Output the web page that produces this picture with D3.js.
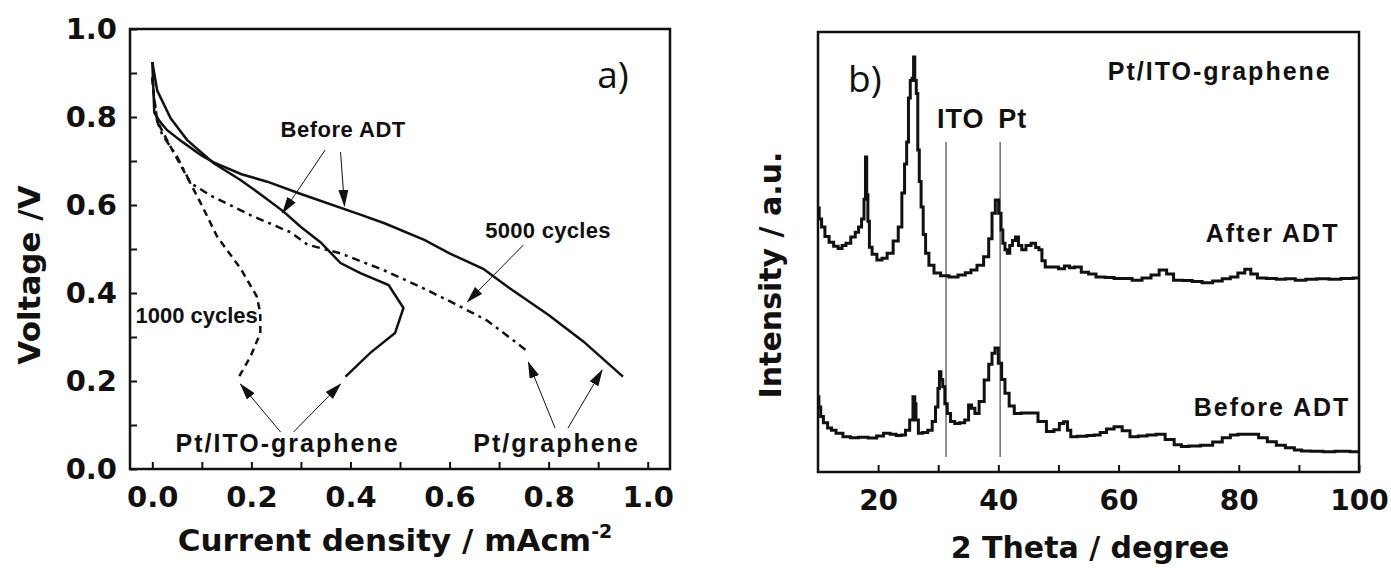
<!DOCTYPE html>
<meta charset="utf-8">
<head>
<style>
  body { margin: 0; background: #fff; }
  .axis text { font-family: "DejaVu Sans", sans-serif; font-weight: bold; fill: #111; }
  .label { font-family: "DejaVu Sans", sans-serif; font-weight: bold; fill: #111; }
  .note { font-family: "Liberation Sans", Arial, sans-serif; font-weight: bold; fill: #111; }
  .panel { font-family: "Open Sans", sans-serif; fill: #111; }
</style>
</head>
<body>
<svg id="chart"></svg>
<script src="https://d3js.org/d3.v7.min.js"></script>
<script>

// ---- panel a) polarisation curves (current density, voltage)
var jTicks = [0, 0.2, 0.4, 0.6, 0.8, 1.0];
var jMinor = [0.1, 0.3, 0.5, 0.7, 0.9];
var vTicks = [0, 0.2, 0.4, 0.6, 0.8, 1.0];
var vMinor = [0.1, 0.3, 0.5, 0.7, 0.9];

var ptGrapheneBefore = [[0.0,0.925],[0.002,0.87],[0.004,0.81],[0.015,0.79],[0.03,0.77],[0.06,0.744],
  [0.1,0.712],[0.124,0.697],[0.18,0.67],[0.232,0.653],[0.3,0.625],[0.42,0.578],[0.47,0.558],
  [0.55,0.52],[0.6,0.49],[0.668,0.455],[0.72,0.412],[0.8,0.35],[0.87,0.29],[0.95,0.21]];

var ptItoBefore = [[0.0,0.925],[0.01,0.86],[0.037,0.797],[0.07,0.748],[0.124,0.695],[0.178,0.657],
  [0.225,0.619],[0.265,0.585],[0.3,0.55],[0.34,0.515],[0.38,0.468],[0.42,0.445],[0.477,0.418],
  [0.507,0.366],[0.49,0.309],[0.44,0.264],[0.39,0.21]];

var ptIto1000 = [[0.0,0.89],[0.004,0.84],[0.01,0.79],[0.037,0.732],[0.07,0.664],[0.097,0.606],
  [0.131,0.528],[0.178,0.456],[0.211,0.392],[0.218,0.354],[0.218,0.309],[0.198,0.255],[0.175,0.21]];

var ptGraphene5000 = [[0.0,0.89],[0.004,0.84],[0.01,0.79],[0.02,0.76],[0.05,0.71],[0.077,0.65],
  [0.12,0.62],[0.2,0.576],[0.279,0.538],[0.313,0.51],[0.38,0.49],[0.467,0.452],[0.541,0.414],
  [0.608,0.377],[0.675,0.338],[0.72,0.3],[0.76,0.265]];

var notesA = [
  {text: "Before ADT", j: 0.259, v: 0.755, size: 22, sp: 0.5},
  {text: "5000 cycles", j: 0.672, v: 0.525, size: 22, sp: 0.3},
  {text: "1000 cycles", j: -0.034, v: 0.332, size: 22, sp: 0},
  {text: "Pt/ITO-graphene", j: 0.047, v: 0.039, size: 25, sp: 2},
  {text: "Pt/graphene", j: 0.648, v: 0.039, size: 25, sp: 2}
];
var arrowsA = [
  [[0.349,0.725],[0.263,0.582]],
  [[0.380,0.720],[0.388,0.598]],
  [[0.749,0.509],[0.636,0.380]],
  [[0.259,0.084],[0.178,0.193]],
  [[0.285,0.084],[0.380,0.193]],
  [[0.813,0.093],[0.759,0.243]],
  [[0.839,0.093],[0.908,0.225]]
];

// ---- panel b) XRD patterns (2 theta, intensity a.u.)
var thetaTicks = [20, 40, 60, 80, 100];
var thetaMinor = [30, 50, 70, 90];

var afterADT = [[10.0,60],[10.4,57.5],[10.8,55.7],[11.5,53.5],[12.2,52.2],[13.0,51.3],[13.7,50.8],
  [14.3,51.5],[15.0,52.0],[15.9,53.4],[16.5,54.5],[17.0,55.7],[17.5,57.5],[17.8,62],[18.0,71.6],
  [18.2,63],[18.4,57],[18.7,51.1],[19.3,49.5],[20.3,48.2],[21.0,48.6],[22.0,49.7],[23.0,52.5],
  [23.7,55.7],[24.2,63.4],[24.6,70],[24.9,75],[25.2,85],[25.5,89],[25.8,89.5],[26.0,94.3],
  [26.2,89],[26.5,86],[26.7,73.2],[27.0,66],[27.3,60.2],[27.7,54],[28.1,49.7],[28.8,47],
  [29.8,45.2],[31.0,44.6],[32.6,44.3],[34.0,44.8],[35.0,45.3],[35.9,45.9],[37.0,47],[38.1,48.9],
  [38.7,53],[39.2,58.8],[39.8,61.8],[40.3,58.8],[40.6,55],[40.9,52],[41.3,50.5],[41.7,49.7],
  [42.1,51.5],[42.6,52.6],[43.1,53.4],[43.6,51.5],[44.2,50.5],[45.0,51.5],[45.9,52],[46.5,51],
  [47.0,50.5],[47.5,48],[48.1,46.6],[49.5,46.6],[50.5,46.2],[51.5,46.8],[52.2,46.4],[53.1,46.6],
  [54.5,45.4],[55.5,45.0],[57.0,44.3],[58.5,44.2],[60.0,44.0],[61.5,44.0],[63.0,43.6],[64.8,44.1],
  [66.0,44.8],[67.5,45.9],[68.5,45.0],[69.8,43.6],[71.5,43.5],[73.0,43.3],[74.8,43.0],[76.5,43.4],
  [78.0,43.9],[79.2,44.3],[80.5,45.2],[81.5,46.1],[82.5,45.0],[83.7,44.1],[85.5,44.0],[87.0,43.8],
  [88.5,43.9],[90.3,43.6],[92.0,43.8],[94.0,43.9],[96.0,43.8],[98.0,44.0],[100.0,44.1]];

var beforeADT = [[10.0,17.1],[10.3,14.8],[10.6,12.6],[11.2,11.2],[12.0,10.0],[12.5,9.5],[13.5,8.8],
  [14.8,8.0],[16.0,7.8],[17.5,7.9],[19.2,7.7],[20.3,8.2],[21.5,8.8],[22.5,8.6],[23.5,8.3],[24.2,8.4],
  [24.9,9.5],[25.6,11.8],[26.0,17.1],[26.2,15.5],[26.4,11.8],[27.0,8.8],[27.8,9.0],[28.7,9.5],
  [29.3,11.5],[29.8,14.8],[30.1,19],[30.3,22.8],[30.6,21],[30.9,19.4],[31.3,15.5],[31.7,13.3],
  [32.4,11.5],[33.1,11.0],[34.0,11.2],[34.8,11.8],[35.3,15.2],[35.8,14.5],[36.4,13.3],[37.2,16],
  [38.1,20.9],[38.7,24.5],[39.2,27.0],[39.7,28.2],[40.3,24.7],[40.8,21],[41.4,17.9],[42.2,15.0],
  [43.1,13.3],[44.5,13.4],[45.9,13.4],[47.3,11.5],[48.7,9.2],[49.8,9.6],[50.5,11.0],[51.2,11.4],
  [51.8,9.5],[52.3,8.0],[54.0,8.1],[55.5,8.3],[56.4,8.4],[57.5,9.0],[58.5,9.8],[60.0,10.3],
  [61.2,9.4],[62.6,8.0],[64.0,8.2],[65.5,8.4],[67.0,8.6],[68.5,7.4],[70.0,6.2],[70.9,5.8],
  [72.5,5.9],[74.8,6.1],[76.5,6.8],[78.0,7.8],[79.2,8.4],[80.5,8.6],[81.5,8.6],[82.6,8.6],
  [84.0,7.8],[85.5,6.9],[87.0,6.1],[88.5,5.5],[90.0,5.0],[90.9,4.8],[93.0,4.7],[95.0,4.6],
  [97.0,4.7],[100.0,4.6]];

var refLines = [{name: "ITO", theta: 31.3}, {name: "Pt", theta: 40.3}];
var refTop = 75, refBottom = 3.4;

var notesB = [
  {text: "Pt/ITO-graphene", t: 58.2, i: 89.1, size: 25, sp: 2},
  {text: "ITO", t: 29.8, i: 78.2, size: 27, sp: 1},
  {text: "Pt", t: 40.0, i: 78.2, size: 27, sp: 1},
  {text: "After ADT", t: 74.5, i: 52.3, size: 25, sp: 2},
  {text: "Before ADT", t: 72.5, i: 12.7, size: 25, sp: 2}
];


var svg = d3.select("#chart")
    .attr("width", 1391)
    .attr("height", 568);

svg.append("rect").attr("width", 1391).attr("height", 568).style("fill", "#fff");

svg.append("defs").append("marker")
    .attr("id", "head")
    .attr("markerUnits", "userSpaceOnUse")
    .attr("markerWidth", 17).attr("markerHeight", 10)
    .attr("refX", 16).attr("refY", 5)
    .attr("orient", "auto")
  .append("path")
    .attr("d", "M0,0 L17,5 L0,10 Z")
    .style("fill", "#111");

// ================= panel a
var xa = d3.scaleLinear().domain([-0.045, 1.045]).range([130, 670]);
var ya = d3.scaleLinear().domain([0, 1]).range([469, 29]);

var ga = svg.append("g");

function ticksBottom(g, scale, major, minor, y0, fs) {
  var ax = g.append("g").attr("class", "axis")
      .attr("transform", "translate(0," + y0 + ")")
      .call(d3.axisBottom(scale).tickValues(major).tickSize(-7)
        .tickFormat(function(d) { return scale === xa ? d3.format(".1f")(d) : d; }));
  ax.select(".domain").remove();
  ax.selectAll("text").attr("y", 38).attr("dy", null).style("font-size", fs + "px");
  ax.selectAll("line").style("stroke", "#111").style("stroke-width", 2);
  var mn = g.append("g")
      .attr("transform", "translate(0," + y0 + ")")
      .call(d3.axisBottom(scale).tickValues(minor).tickSize(-7).tickFormat(""));
  mn.select(".domain").remove();
  mn.selectAll("line").style("stroke", "#111").style("stroke-width", 2);
}

ticksBottom(ga, xa, jTicks, jMinor, 469, 29);

var yax = ga.append("g").attr("class", "axis")
    .attr("transform", "translate(130,0)")
    .call(d3.axisLeft(ya).tickValues(vTicks).tickSize(-7).tickPadding(13).tickFormat(d3.format(".1f")));
yax.select(".domain").remove();
yax.selectAll("text").style("font-size", "29px");
yax.selectAll("line").style("stroke", "#111").style("stroke-width", 2);
var ymn = ga.append("g")
    .attr("transform", "translate(130,0)")
    .call(d3.axisLeft(ya).tickValues(vMinor).tickSize(-7).tickFormat(""));
ymn.select(".domain").remove();
ymn.selectAll("line").style("stroke", "#111").style("stroke-width", 2);

var lineA = d3.line()
    .x(function(d) { return xa(d[0]); })
    .y(function(d) { return ya(d[1]); });

ga.append("path").datum(ptGrapheneBefore).attr("d", lineA)
    .style("fill", "none").style("stroke", "#111").style("stroke-width", 2.5);
ga.append("path").datum(ptItoBefore).attr("d", lineA)
    .style("fill", "none").style("stroke", "#111").style("stroke-width", 2.5);
ga.append("path").datum(ptIto1000).attr("d", lineA)
    .style("fill", "none").style("stroke", "#111").style("stroke-width", 2.5)
    .style("stroke-dasharray", "7,5");
ga.append("path").datum(ptGraphene5000).attr("d", lineA)
    .style("fill", "none").style("stroke", "#111").style("stroke-width", 2.5)
    .style("stroke-dasharray", "8,5,3,5");

ga.selectAll(".arrA")
    .data(arrowsA)
  .enter().append("line")
    .attr("x1", function(d) { return xa(d[0][0]); })
    .attr("y1", function(d) { return ya(d[0][1]); })
    .attr("x2", function(d) { return xa(d[1][0]); })
    .attr("y2", function(d) { return ya(d[1][1]); })
    .style("stroke", "#111").style("stroke-width", 1)
    .attr("marker-end", "url(#head)");

ga.selectAll(".noteA")
    .data(notesA)
  .enter().append("text")
    .attr("class", "note")
    .attr("x", function(d) { return xa(d.j); })
    .attr("y", function(d) { return ya(d.v); })
    .style("font-size", function(d) { return d.size + "px"; })
    .style("letter-spacing", function(d) { return d.sp + "px"; })
    .text(function(d) { return d.text; });

ga.append("text").attr("class", "panel")
    .attr("x", xa(0.898)).attr("y", ya(0.866))
    .style("font-size", "37px")
    .text("a)");

ga.append("rect")
    .attr("x", 130).attr("y", 29).attr("width", 540).attr("height", 440)
    .style("fill", "none").style("stroke", "#111").style("stroke-width", 2.5);

var xtA = ga.append("text").attr("class", "label")
    .attr("x", 395).attr("y", 551)
    .attr("text-anchor", "middle")
    .style("font-size", "31px")
    .text("Current density / mAcm");
xtA.append("tspan").attr("dy", -13).style("font-size", "19px").text("-2");

ga.append("text").attr("class", "label")
    .attr("transform", "translate(40,275) rotate(-90)")
    .attr("text-anchor", "middle")
    .style("font-size", "31px")
    .text("Voltage /V");

// ================= panel b
var xb = d3.scaleLinear().domain([10, 100]).range([818, 1359]);
var yb = d3.scaleLinear().domain([0, 100]).range([472, 32]);

var gb = svg.append("g");

ticksBottom(gb, xb, thetaTicks, thetaMinor, 472, 28);

gb.selectAll(".ref")
    .data(refLines)
  .enter().append("line")
    .attr("x1", function(d) { return xb(d.theta); })
    .attr("x2", function(d) { return xb(d.theta); })
    .attr("y1", yb(refTop))
    .attr("y2", yb(refBottom))
    .style("stroke", "#555").style("stroke-width", 1.3);

// step drawing gives the counting-histogram look of the scans
var lineB = d3.line()
    .curve(d3.curveStep)
    .x(function(d) { return xb(d[0]); })
    .y(function(d) { return yb(d[1]); });

gb.append("path").datum(afterADT).attr("d", lineB)
    .style("fill", "none").style("stroke", "#111").style("stroke-width", 3);
gb.append("path").datum(beforeADT).attr("d", lineB)
    .style("fill", "none").style("stroke", "#111").style("stroke-width", 3);

gb.selectAll(".noteB")
    .data(notesB)
  .enter().append("text")
    .attr("class", "note")
    .attr("x", function(d) { return xb(d.t); })
    .attr("y", function(d) { return yb(d.i); })
    .style("font-size", function(d) { return d.size + "px"; })
    .style("letter-spacing", function(d) { return d.sp + "px"; })
    .text(function(d) { return d.text; });

gb.append("text").attr("class", "panel")
    .attr("x", xb(15)).attr("y", yb(86.4))
    .style("font-size", "37px")
    .text("b)");

gb.append("rect")
    .attr("x", 818).attr("y", 32).attr("width", 541).attr("height", 440)
    .style("fill", "none").style("stroke", "#111").style("stroke-width", 2.5);

gb.append("text").attr("class", "label")
    .attr("x", 1090).attr("y", 558)
    .attr("text-anchor", "middle")
    .style("font-size", "30px")
    .text("2 Theta / degree");

gb.append("text").attr("class", "label")
    .attr("transform", "translate(781,275) rotate(-90)")
    .attr("text-anchor", "middle")
    .style("font-size", "30px")
    .text("Intensity / a.u.");

</script>
</body>
